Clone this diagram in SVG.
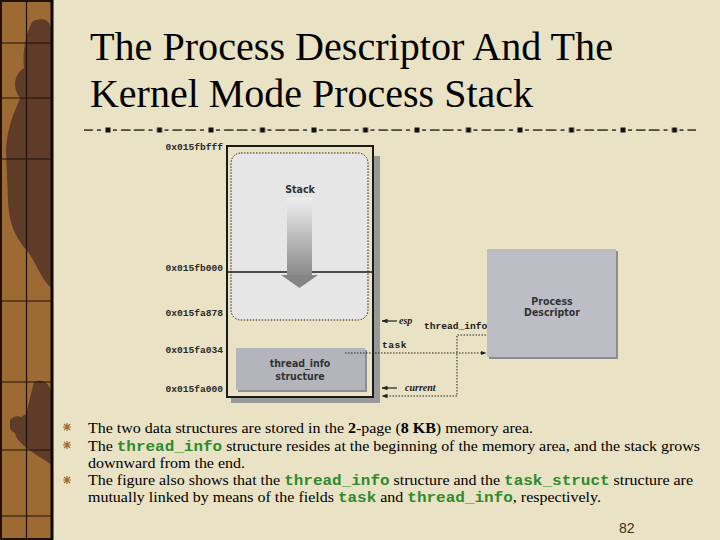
<svg xmlns="http://www.w3.org/2000/svg" width="720" height="540" viewBox="0 0 720 540">
<style>
.title{font-family:"Liberation Serif","Times New Roman",serif;font-size:40px;fill:#000}
.addr{font-family:"Liberation Mono","Courier New",monospace;font-weight:bold;font-size:9.6px;fill:#2a2a2a}
.mono{font-family:"Liberation Mono","Courier New",monospace;font-weight:bold;font-size:9.6px;fill:#1a1a1a}
.ital{font-family:"Liberation Serif","Times New Roman",serif;font-style:italic;font-weight:bold;font-size:10px;fill:#1a1a1a}
.lbl{font-family:"DejaVu Sans Condensed","Liberation Sans",sans-serif;font-weight:bold;font-size:10.5px;fill:#333;text-anchor:middle}
.body{font-family:"Liberation Serif","Times New Roman",serif;font-size:14.5px;fill:#000}
.code{font-family:"Liberation Mono","Courier New",monospace;font-weight:bold;fill:#2e8b2e}
.dot{fill:none;stroke:#222;stroke-width:1;stroke-dasharray:1.5 1.5}
.solid{stroke:#222;stroke-width:1.2;fill:none}
.bul{stroke:#a86a2c;stroke-width:1.2;fill:none}
.grid{stroke:#1e120a;stroke-width:1.2}
</style>
<defs>
<pattern id="sep" patternUnits="userSpaceOnUse" x="82.25" y="127" width="51.5" height="6">
<rect x="23.25" y="0.5" width="5" height="5" fill="#111"/>
<rect x="30.75" y="2.4" width="4" height="1.3" fill="#111"/>
<rect x="38.75" y="2.4" width="9.5" height="1.3" fill="#111"/>
<rect x="0" y="2.4" width="10.75" height="1.3" fill="#111"/>
<rect x="14.75" y="2.4" width="4" height="1.3" fill="#111"/>
</pattern>
<linearGradient id="shaft" x1="0" y1="0" x2="0" y2="1">
<stop offset="0" stop-color="#eeeeee"/>
<stop offset="1" stop-color="#8a8a8a"/>
</linearGradient>
<marker id="ah" viewBox="0 0 6 6" refX="5.5" refY="3" markerWidth="6" markerHeight="6" orient="auto" markerUnits="userSpaceOnUse">
<path d="M0,0.8 L6,3 L0,5.2 Z" fill="#222"/>
</marker>
<path id="star" class="bul" d="M0,-4 L0,4 M-4,0 L4,0 M-3,-3 L3,3 M-3,3 L3,-3"/>
</defs>

<rect width="720" height="540" fill="#e9e2c4"/>

<g id="sidebar">
<rect x="0" y="0" width="53" height="540" fill="#9e6a33"/>
<path d="M32,22 C46,14 52,24 52,34 L52,288 C42,282 36,262 28,252 C18,240 9,228 8,200 L6,150 C8,122 16,110 20,98 C12,88 14,74 24,68 C22,52 26,34 32,22 Z" fill="#5e3c28"/>
<path d="M34,382 C46,376 52,388 52,398 L52,465 C42,458 30,452 20,442 C11,432 14,420 26,414 Z" fill="#5e3c28"/>
<path d="M10,420 C18,412 26,418 24,428 C20,436 12,434 10,428 Z" fill="#5e3c28"/>
<rect x="1" y="1" width="51" height="538" fill="none" stroke="#1e120a" stroke-width="2"/>
<line x1="52" y1="0" x2="52" y2="540" stroke="#0d0905" stroke-width="3"/>
<line x1="26.5" y1="0" x2="26.5" y2="540" class="grid"/>
<line x1="0" y1="43" x2="53" y2="43" class="grid"/>
<line x1="0" y1="98" x2="53" y2="98" class="grid"/>
<line x1="0" y1="159" x2="53" y2="159" class="grid"/>
<line x1="0" y1="301" x2="53" y2="301" class="grid"/>
<line x1="0" y1="382" x2="53" y2="382" class="grid"/>
<line x1="0" y1="450" x2="53" y2="450" class="grid"/>
<line x1="0" y1="516" x2="53" y2="516" class="grid"/>
</g>

<g id="title">
<text class="title" x="90" y="60" textLength="523" lengthAdjust="spacingAndGlyphs">The Process Descriptor And The</text>
<text class="title" x="90" y="107" textLength="443" lengthAdjust="spacingAndGlyphs">Kernel Mode Process Stack</text>
</g>

<rect id="separator" x="84" y="127" width="612" height="6" fill="url(#sep)"/>

<g id="memory-area">
<rect x="231" y="156" width="149" height="247" fill="#999"/>
<rect x="227" y="146" width="146" height="251" fill="#e9e2c4" stroke="#1a1a1a" stroke-width="2"/>
</g>

<g id="stack">
<rect x="231" y="153" width="137" height="167" rx="10" class="dot" style="fill:#e6e6e6"/>
<line x1="227" y1="272" x2="373" y2="272" stroke="#1a1a1a" stroke-width="1.5"/>
<rect x="287" y="198" width="25" height="78" fill="url(#shaft)"/>
<path d="M281,275 L318,275 L299.5,288 Z" fill="#858585"/>
<text class="lbl" x="300" y="193">Stack</text>
</g>

<g id="thread-info">
<rect x="238" y="350" width="129" height="42" fill="#8e8e96"/>
<rect x="236" y="348" width="129" height="42" fill="#b4b4bc"/>
<text class="lbl" x="300" y="367">thread_info</text>
<text class="lbl" x="300" y="380">structure</text>
</g>

<g id="process-descriptor">
<rect x="489" y="251" width="129" height="108" fill="#8c8c94"/>
<rect x="487" y="249" width="129" height="108" fill="#bdbdc5"/>
<text class="lbl" x="552" y="305">Process</text>
<text class="lbl" x="552" y="316">Descriptor</text>
</g>

<g id="addresses">
<text class="addr" x="223" y="150" text-anchor="end">0x015fbfff</text>
<text class="addr" x="223" y="271" text-anchor="end">0x015fb000</text>
<text class="addr" x="223" y="316" text-anchor="end">0x015fa878</text>
<text class="addr" x="223" y="353" text-anchor="end">0x015fa034</text>
<text class="addr" x="223" y="392" text-anchor="end">0x015fa000</text>
</g>

<g id="connectors">
<line x1="397" y1="321" x2="382" y2="321" class="solid" marker-end="url(#ah)"/>
<line x1="397" y1="388" x2="382" y2="388" class="solid" marker-end="url(#ah)"/>
<line x1="345" y1="353" x2="486" y2="353" class="dot" marker-end="url(#ah)"/>
<polyline points="486,335 457,335 457,396 382,396" class="dot" marker-end="url(#ah)"/>
</g>

<g id="pointer-labels">
<text class="ital" x="399" y="324">esp</text>
<text class="mono" x="424" y="329">thread_info</text>
<text class="mono" x="382" y="348" font-size="10.5" letter-spacing="0.5">task</text>
<text class="ital" x="405" y="391">current</text>
</g>

<g id="bullets">
<use href="#star" x="67" y="427"/>
<use href="#star" x="67" y="445"/>
<use href="#star" x="67" y="480"/>
</g>

<g id="body-text">
<text class="body" x="88" y="433" textLength="445" lengthAdjust="spacingAndGlyphs">The two data structures are stored in the <tspan font-weight="bold">2</tspan>-page (<tspan font-weight="bold">8 KB</tspan>) memory area.</text>
<text class="body" x="88" y="451" textLength="612" lengthAdjust="spacingAndGlyphs">The <tspan class="code">thread_info</tspan> structure resides at the beginning of the memory area, and the stack grows</text>
<text class="body" x="88" y="468" textLength="157" lengthAdjust="spacingAndGlyphs">downward from the end.</text>
<text class="body" x="88" y="485" textLength="605" lengthAdjust="spacingAndGlyphs">The figure also shows that the <tspan class="code">thread_info</tspan> structure and the <tspan class="code">task_struct</tspan> structure are</text>
<text class="body" x="88" y="502" textLength="513" lengthAdjust="spacingAndGlyphs">mutually linked by means of the fields <tspan class="code">task</tspan> and <tspan class="code">thread_info</tspan>, respectively.</text>
</g>

<text id="page-number" x="619" y="533" font-family="Liberation Sans, Arial, sans-serif" font-size="14" fill="#3a3020">82</text>
</svg>
